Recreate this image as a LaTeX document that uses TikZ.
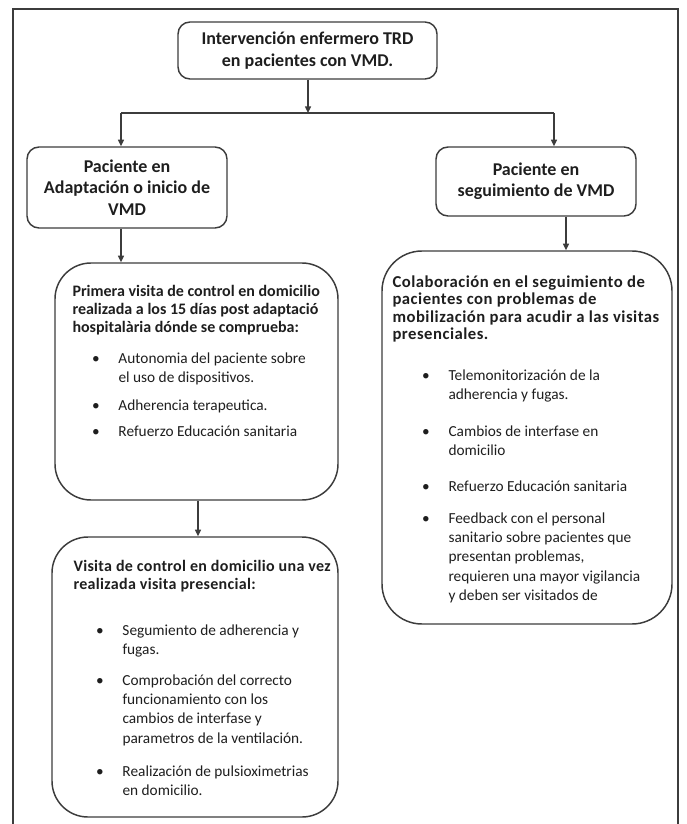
\documentclass[tikz,border=0pt]{standalone}
\usepackage{fontspec}
\setmainfont{Carlito}
\usetikzlibrary{arrows.meta}

\definecolor{linegray}{RGB}{60,60,60}
\definecolor{txtgray}{RGB}{30,30,30}

\tikzset{every picture/.style={line width=0.75pt}}
\tikzset{
  titlebox/.style={draw=linegray, line width=1.1, rounded corners=9pt, align=center, inner sep=0pt, text=txtgray, font=\fontsize{13.5}{16}\selectfont\bfseries},
  listbox/.style={draw=linegray, line width=1.1, rounded corners=27pt, inner sep=0pt},
  headtext/.style={anchor=north west, inner sep=0pt, align=left, text=txtgray, font=\fontsize{12}{13.5}\selectfont\bfseries},
  widehead/.style={headtext, font=\fontsize{12}{13.5}\selectfont\bfseries\addfontfeature{LetterSpace=2}},
  itemtext/.style={anchor=north west, inner sep=0pt, align=left, text=txtgray, font=\fontsize{11.5}{14.5}\selectfont},
  arrowline/.style={draw=linegray, line width=1, -{Triangle[length=5pt,width=4.5pt]}},
}
\newcommand{\bul}{\llap{\textbullet\hspace{14pt}}}

\begin{document}
\begin{tikzpicture}[x=0.75pt,y=0.75pt,yscale=-1,xscale=1]
	\useasboundingbox (0,0) rectangle (686,824);

	%Frame
	\draw [linegray, line width=1.1] (13,830) -- (13,9) -- (678,9) -- (678,830) ;

	%Rounded Rect: top
	\node [titlebox, minimum width=194.25pt, minimum height=42.75pt] (interv) at (307.5,50.5) {Intervención enfermero TRD\\en pacientes con VMD.};
	%Rounded Rect: left title
	\node [titlebox, minimum width=150pt, minimum height=60.75pt] (adapt) at (127,187.5) {Paciente en\\Adaptación o inicio de\\VMD};
	%Rounded Rect: right title
	\node [titlebox, minimum width=150pt, minimum height=51.75pt] (seguim) at (536,181.5) {Paciente en\\seguimiento de VMD};

	%Rounded Rect: list boxes
	\node [listbox, minimum width=212.25pt, minimum height=177.75pt] (visita1) at (196.5,381.5) {};
	\node [listbox, minimum width=214.5pt, minimum height=210pt] (visita2) at (195,677) {};
	\node [listbox, rounded corners=30pt, minimum width=217.5pt, minimum height=279.75pt] (colab) at (527,437.5) {};

	%Connectors
	\coordinate (split) at (308,113);
	\coordinate (splitL) at (121,113);
	\coordinate (splitR) at (554,113);
	\coordinate (rx) at (566,216);
	\coordinate (mx) at (198,500);
	\draw [arrowline] (interv.south -| split) -- (split) ;
	\draw [linegray, line width=1] (splitL) -- (splitR) ;
	\draw [arrowline] (splitL) -- (splitL |- adapt.north) ;
	\draw [arrowline] (splitR) -- (splitR |- seguim.north) ;
	\draw [arrowline] (adapt.south -| splitL) -- (splitL |- visita1.north) ;
	\draw [arrowline] (visita1.south -| mx) -- (mx |- visita2.north) ;
	\draw [arrowline] (seguim.south -| rx) -- (rx |- colab.north) ;

	% Text Node
	\node [headtext] (v1head) at (72,285) {Primera visita de control en domicilio\\realizada a los 15 días post adaptació\\hospitalària dónde se comprueba:};
	% Text Node
	\node [itemtext] (v1a) at (118,352) {\bul Autonomia del paciente sobre\\el uso de dispositivos.};
	% Text Node
	\node [itemtext] (v1b) at (118,399) {\bul Adherencia terapeutica.};
	% Text Node
	\node [itemtext] (v1c) at (118,425) {\bul Refuerzo Educación sanitaria};

	% Text Node
	\node [widehead] (v2head) at (73,560) {Visita de control en domicilio una vez\\realizada visita presencial:};
	% Text Node
	\node [itemtext] (v2a) at (122,624) {\bul Segumiento de adherencia y\\fugas.};
	% Text Node
	\node [itemtext] (v2b) at (122,674) {\bul Comprobación del correcto\\funcionamiento con los\\cambios de interfase y\\parametros de la ventilación.};
	% Text Node
	\node [itemtext] (v2c) at (122,765) {\bul Realización de pulsioximetrias\\en domicilio.};

	% Text Node
	\node [widehead, font=\fontsize{12.5}{13.2}\selectfont\bfseries\addfontfeature{LetterSpace=3}] (chead) at (392,275) {Colaboración en el seguimiento de\\pacientes con problemas de\\mobilización para acudir a las visitas\\presenciales.};
	% Text Node
	\node [itemtext] (ca) at (448,369) {\bul Telemonitorización de la\\adherencia y fugas.};
	% Text Node
	\node [itemtext] (cb) at (448,425) {\bul Cambios de interfase en\\domicilio};
	% Text Node
	\node [itemtext] (cc) at (448,480) {\bul Refuerzo Educación sanitaria};
	% Text Node
	\node [itemtext] (cd) at (448,512) {\bul Feedback con el personal\\sanitario sobre pacientes que\\presentan problemas,\\requieren una mayor vigilancia\\y deben ser visitados de};

\end{tikzpicture}
\end{document}
